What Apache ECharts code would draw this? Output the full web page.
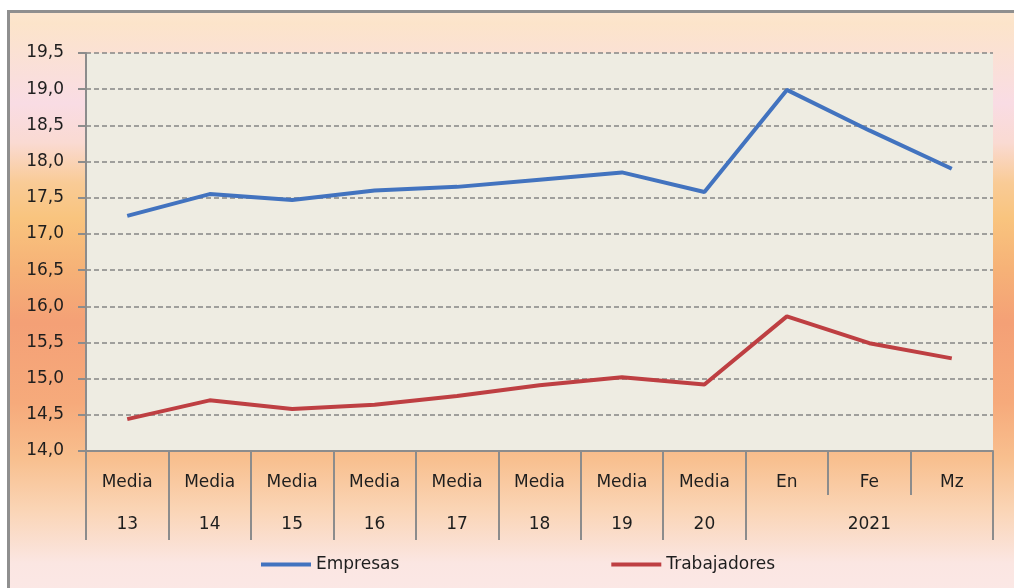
<!DOCTYPE html>
<html>
<head>
<meta charset="utf-8">
<script src="https://cdn.jsdelivr.net/npm/echarts@6/dist/echarts.min.js"></script>
<style>
  html, body { margin: 0; padding: 0; width: 1014px; height: 588px; overflow: hidden; background: #ffffff; }
  #frame {
    position: absolute; left: 7px; top: 10px; width: 1040px; height: 620px;
    border: 3px solid #8f8f8f; box-sizing: border-box;
    background: linear-gradient(180deg,
      #FCE6CF 0px, #FCE4CA 10px, #F9DCE4 90px, #FADAD2 130px, #F9CB96 170px,
      #F9C47E 205px, #F6B277 255px, #F4A076 310px, #F6AA7B 390px,
      #F8BF8E 445px, #FAD4B4 495px, #FBE6E2 550px, #FBEAEA 620px);
  }
  #chart { position: absolute; left: 0; top: 0; width: 1014px; height: 588px; }
</style>
</head>
<body>
<div id="frame"></div>
<div id="chart"></div>
<script>
const categoriesTop = ['Media', 'Media', 'Media', 'Media', 'Media', 'Media', 'Media', 'Media', 'En', 'Fe', 'Mz'];
const categoriesBottom = ['13', '14', '15', '16', '17', '18', '19', '20', '', '2021', ''];
const groupBoundaryLastIndex = 8;
const empresas = [17.25, 17.55, 17.47, 17.60, 17.65, 17.75, 17.85, 17.58, 18.99, 18.43, 17.90];
const trabajadores = [14.44, 14.70, 14.58, 14.64, 14.76, 14.91, 15.02, 14.92, 15.86, 15.49, 15.28];
const seriesNames = ['Empresas', 'Trabajadores'];
const yMin = 14, yMax = 19.5, yStep = 0.5;

const FONT = 'DejaVu Sans';
const TEXT = '#1e1e1e';
const AXIS = '#8c8c8c';

const chart = echarts.init(document.getElementById('chart'), null, { renderer: 'canvas' });
chart.setOption({
  backgroundColor: 'transparent',
  animation: false,
  textStyle: { fontFamily: FONT },
  grid: {
    left: 86, top: 53, width: 907, height: 398,
    show: true, backgroundColor: '#EEECE2', borderWidth: 0,
    containLabel: false, outerBoundsMode: 'none'
  },
  legend: {
    data: seriesNames,
    left: 256, top: 551,
    icon: 'rect', itemWidth: 50, itemHeight: 4, itemGap: 212,
    textStyle: { fontFamily: FONT, fontSize: 17, color: TEXT, padding: [0, 0, 0, 0] }
  },
  xAxis: [
    {
      type: 'category', data: categoriesTop, boundaryGap: true,
      axisLine: { show: true, lineStyle: { color: AXIS, width: 2 } },
      axisTick: { show: true, length: 44, interval: 0, lineStyle: { color: AXIS, width: 2 } },
      axisLabel: { interval: 0, margin: 23, fontFamily: FONT, fontSize: 17, color: TEXT },
      splitLine: { show: false }
    },
    {
      type: 'category', data: categoriesBottom, boundaryGap: true, position: 'bottom', offset: 0,
      axisLine: { show: false },
      axisTick: {
        show: true, length: 89,
        interval: function (index) { return index <= groupBoundaryLastIndex; },
        lineStyle: { color: AXIS, width: 2 }
      },
      axisLabel: { interval: 0, margin: 65, fontFamily: FONT, fontSize: 17, color: TEXT },
      splitLine: { show: false }
    }
  ],
  yAxis: {
    type: 'value', min: yMin, max: yMax, interval: yStep,
    axisLine: { show: true, lineStyle: { color: AXIS, width: 2 } },
    axisTick: { show: true, length: 8, lineStyle: { color: AXIS, width: 2 } },
    axisLabel: {
      margin: 22, fontFamily: FONT, fontSize: 17, color: TEXT,
      formatter: function (v) { return v.toFixed(1).replace('.', ','); }
    },
    splitLine: { show: true, lineStyle: { color: '#858585', width: 1.5, type: [5, 3] } }
  },
  series: [
    {
      name: seriesNames[0], type: 'line', data: empresas, xAxisIndex: 0,
      showSymbol: false, symbol: 'none',
      lineStyle: { color: '#4273BF', width: 4 }, itemStyle: { color: '#4273BF' }
    },
    {
      name: seriesNames[1], type: 'line', data: trabajadores, xAxisIndex: 0,
      showSymbol: false, symbol: 'none',
      lineStyle: { color: '#BE3F42', width: 4 }, itemStyle: { color: '#BE3F42' }
    }
  ]
});
</script>
</body>
</html>
